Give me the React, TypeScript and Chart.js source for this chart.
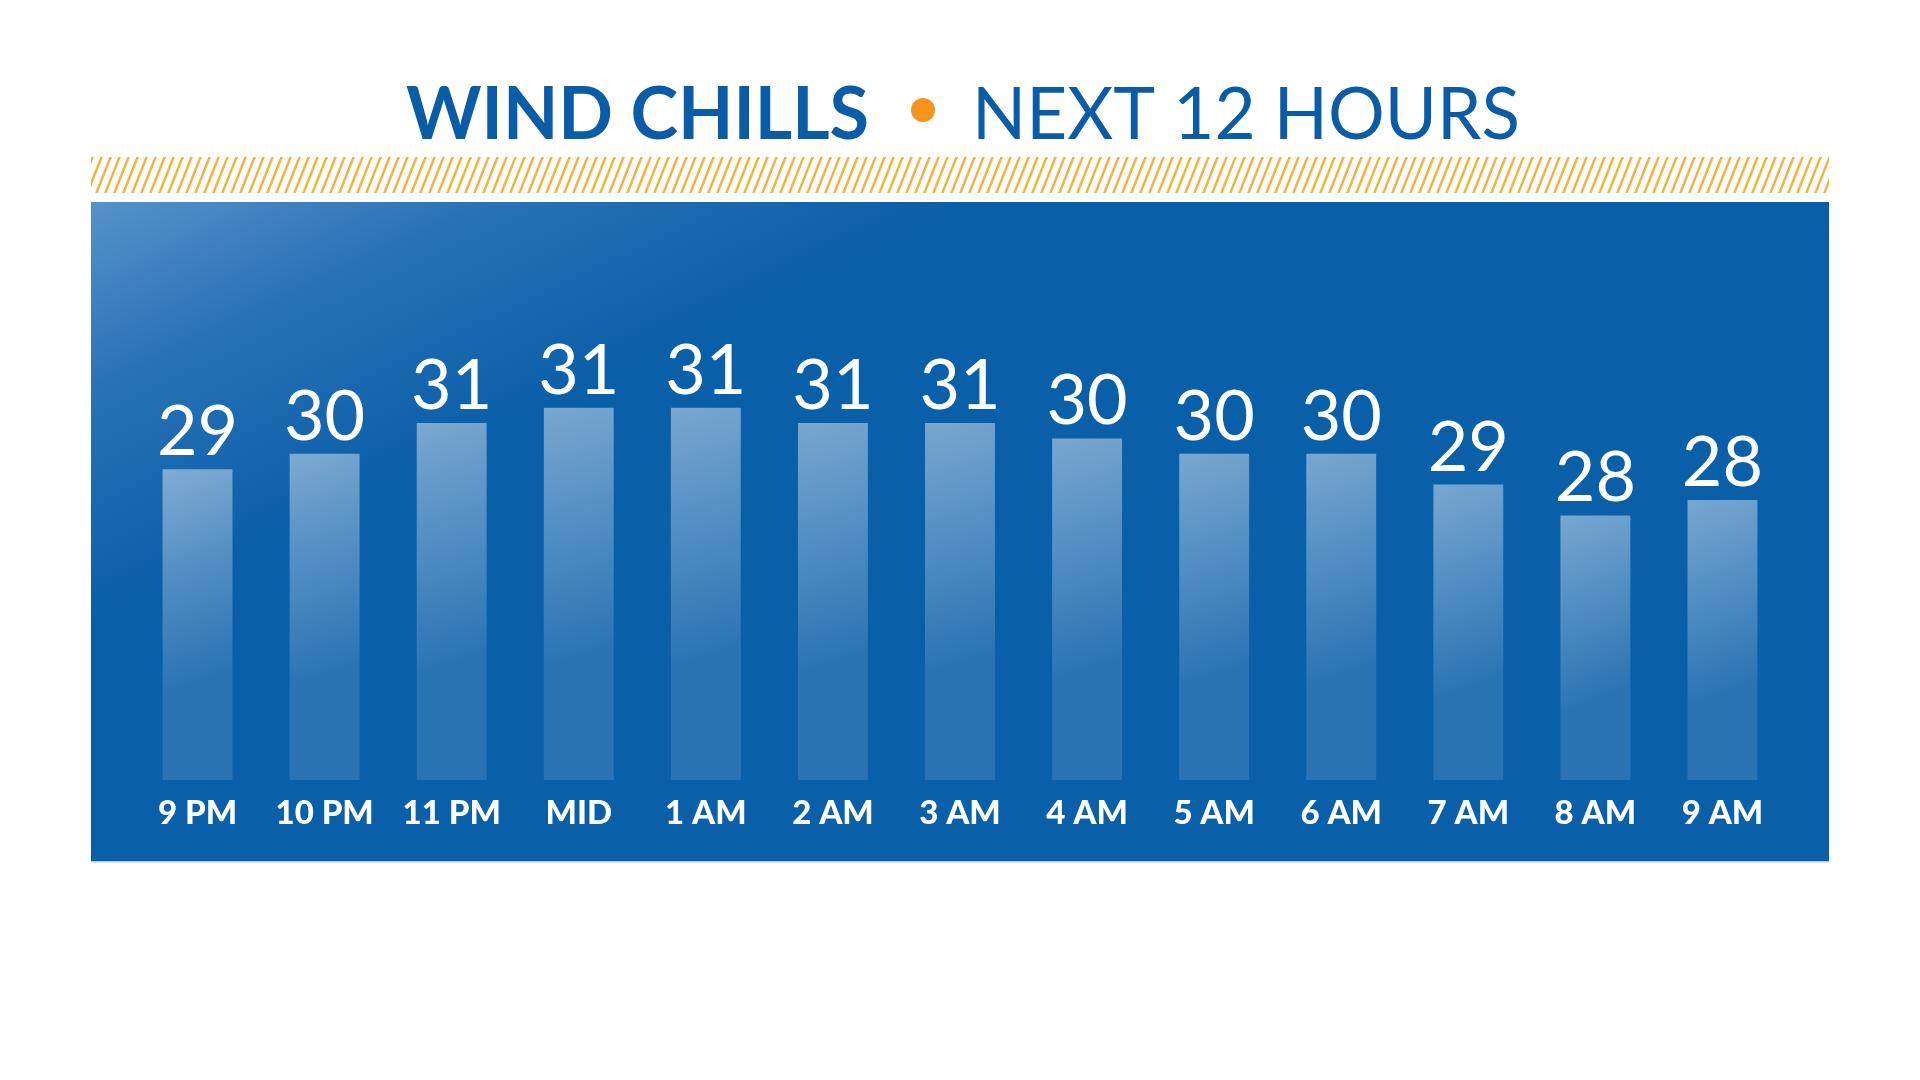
import React, { useEffect, useRef } from "react";
import { Chart, registerables } from "chart.js";

Chart.register(...registerables);

// ---- data ----
const hours = ["9 PM", "10 PM", "11 PM", "MID", "1 AM", "2 AM", "3 AM", "4 AM", "5 AM", "6 AM", "7 AM", "8 AM", "9 AM"];
const windChills = [29.0, 29.5, 30.5, 31.0, 31.0, 30.5, 30.5, 30.0, 29.5, 29.5, 28.5, 27.5, 28.0];
const shownTemps = [29, 30, 31, 31, 31, 31, 31, 30, 30, 30, 29, 28, 28];
const titleBold = "WIND CHILLS";
const titleLight = "NEXT 12 HOURS";

const W = 1920;
const H = 1080;
const TITLE_BLUE = "#0b5ca7";
const PANEL_BLUE = "#0a5fa9";
const FONT = "Lato, 'Noto Sans', sans-serif";

function drawFitted(ctx: CanvasRenderingContext2D, text: string, weight: string, size: number, left: number, right: number, baseline: number) {
  ctx.font = `${weight} ${size}px ${FONT}`;
  const w = ctx.measureText(text).width;
  const sx = (right - left) / w;
  ctx.save();
  ctx.translate(left, baseline);
  ctx.scale(sx, 1);
  ctx.textAlign = "left";
  ctx.textBaseline = "alphabetic";
  ctx.fillText(text, 0, 0);
  ctx.restore();
}

const backdropPlugin = {
  id: "backdrop",
  beforeDraw(chart: any) {
    const ctx: CanvasRenderingContext2D = chart.ctx;
    ctx.save();
    ctx.fillStyle = "#ffffff";
    ctx.fillRect(0, 0, W, H);

    // title
    ctx.fillStyle = TITLE_BLUE;
    drawFitted(ctx, titleBold, "bold", 72, 406, 869, 139);
    drawFitted(ctx, titleLight, "normal", 72, 972, 1520, 139);
    ctx.fillStyle = "#f7941d";
    ctx.beginPath();
    ctx.arc(923, 110, 12, 0, Math.PI * 2);
    ctx.fill();

    // hatched stripe
    ctx.save();
    ctx.beginPath();
    ctx.rect(91, 157, 1738, 36);
    ctx.clip();
    ctx.strokeStyle = "#efb33e";
    ctx.lineWidth = 2.4;
    ctx.beginPath();
    for (let x = 60; x < 1860; x += 9) {
      ctx.moveTo(x, 194);
      ctx.lineTo(x + 15, 156);
    }
    ctx.stroke();
    ctx.restore();

    // panel
    const g = ctx.createLinearGradient(91, 202, 250, 540);
    g.addColorStop(0, "#5692cb");
    g.addColorStop(0.45, "#2a72b6");
    g.addColorStop(1, PANEL_BLUE);
    ctx.fillStyle = g;
    ctx.fillRect(91, 202, 1738, 659);
    ctx.fillStyle = "rgba(160,200,240,0.9)";
    ctx.fillRect(91, 861, 1738, 1.5);
    ctx.restore();
  },
  afterDatasetsDraw(chart: any) {
    const ctx: CanvasRenderingContext2D = chart.ctx;
    const meta = chart.getDatasetMeta(0);
    ctx.save();
    ctx.fillStyle = "#ffffff";
    ctx.font = `normal 70px ${FONT}`;
    ctx.textAlign = "center";
    ctx.textBaseline = "alphabetic";
    meta.data.forEach((bar: any, i: number) => {
      ctx.fillText(String(shownTemps[i]), bar.x, bar.y - 14);
    });
    ctx.restore();
  },
};

function barFill(c: any) {
  const chart = c.chart;
  const xs = chart.scales && chart.scales.x;
  const ys = chart.scales && chart.scales.y;
  if (!xs || !ys || c.type !== "data" || !chart.chartArea) return "rgba(255,255,255,0.25)";
  const cx = xs.getPixelForValue(c.dataIndex);
  const top = ys.getPixelForValue(c.raw);
  const bottom = ys.getPixelForValue(ys.min);
  const half = 35;
  const g = chart.ctx.createLinearGradient(cx - half, top, cx + half, top + (bottom - top) * 0.65);
  g.addColorStop(0, "rgba(255,255,255,0.45)");
  g.addColorStop(1, "rgba(255,255,255,0.13)");
  return g;
}

export default function App() {
  const ref = useRef<HTMLCanvasElement | null>(null);
  useEffect(() => {
    if (!ref.current) return;
    const chart = new Chart(ref.current, {
      type: "bar",
      data: {
        labels: hours,
        datasets: [
          {
            data: windChills,
            backgroundColor: barFill,
            borderWidth: 0,
            categoryPercentage: 1,
            barPercentage: 0.55,
          },
        ],
      },
      options: {
        responsive: false,
        animation: false,
        devicePixelRatio: 1,
        layout: { padding: { left: 134, right: 134, top: 380, bottom: 240 } },
        scales: {
          x: {
            grid: { display: false, drawTicks: false },
            border: { display: false },
            ticks: {
              color: "#ffffff",
              font: { family: FONT, weight: "900", size: 33 },
              padding: 14,
              maxRotation: 0,
              autoSkip: false,
            },
            afterFit: (s: any) => {
              s.height = 60;
            },
          },
          y: { display: false, min: 18.9, max: 31.9 },
        },
        plugins: { legend: { display: false }, tooltip: { enabled: false } },
      },
      plugins: [backdropPlugin],
    } as any);
    return () => chart.destroy();
  }, []);
  return (
    <div style={{ position: "fixed", left: 0, top: 0, width: W, height: H, background: "#fff" }}>
      <canvas ref={ref} width={W} height={H} style={{ display: "block", width: W, height: H }} />
    </div>
  );
}
